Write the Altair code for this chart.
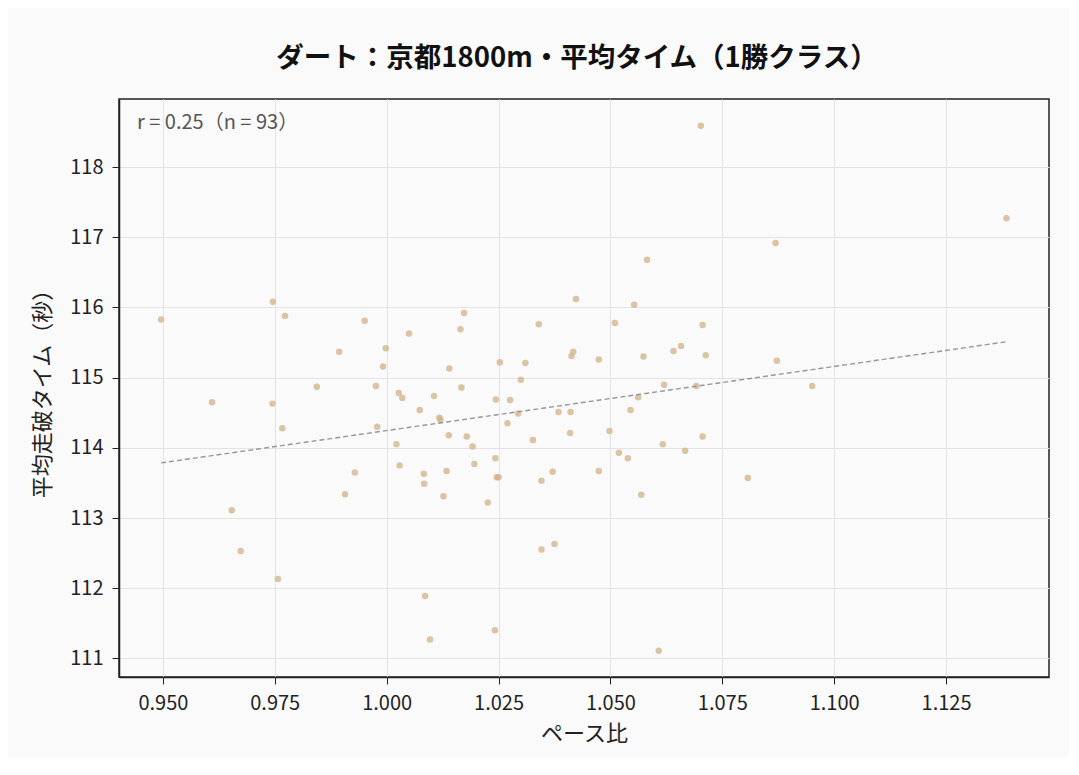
import altair as alt
import pandas as pd

# ペース比 (x) と 平均走破タイム (y, 秒)
pace_ratio = [
    0.9496, 0.9746, 0.9773, 0.9951, 1.0050, 0.9894, 0.9998, 0.9992, 0.9844, 0.9976,
    0.9610, 0.9745, 1.0027, 1.0035, 1.0106, 1.0074, 1.0118, 1.0120, 0.9767, 0.9979,
    1.0022, 1.0029, 0.9929, 1.0083, 1.0084, 0.9907, 0.9654, 0.9674, 0.9757, 1.0086,
    1.0097, 1.0702, 1.0582, 1.0423, 1.0553, 1.0173, 1.0165, 1.0340, 1.0510, 1.0706,
    1.0140, 1.0253, 1.0310, 1.0417, 1.0413, 1.0474, 1.0574, 1.0641, 1.0658, 1.0713,
    1.0300, 1.0167, 1.0620, 1.0692, 1.0244, 1.0276, 1.0294, 1.0270, 1.0384, 1.0411,
    1.0545, 1.0562, 1.0139, 1.0179, 1.0192, 1.0196, 1.0134, 1.0127, 1.0243, 1.0246,
    1.0250, 1.0226, 1.0327, 1.0410, 1.0498, 1.0519, 1.0539, 1.0617, 1.0667, 1.0706,
    1.0371, 1.0474, 1.0346, 1.0569, 1.0346, 1.0375, 1.0242, 1.0608, 1.0869, 1.1385,
    1.0872, 1.0951, 1.0807,
]
avg_time = [
    115.83, 116.08, 115.88, 115.81, 115.63, 115.37, 115.42, 115.16, 114.87, 114.88,
    114.65, 114.63, 114.78, 114.71, 114.74, 114.54, 114.43, 114.40, 114.28, 114.30,
    114.05, 113.75, 113.65, 113.63, 113.49, 113.34, 113.11, 112.53, 112.13, 111.89,
    111.27, 118.59, 116.68, 116.12, 116.04, 115.92, 115.69, 115.76, 115.78, 115.75,
    115.13, 115.22, 115.21, 115.37, 115.31, 115.26, 115.30, 115.38, 115.45, 115.32,
    114.97, 114.86, 114.90, 114.88, 114.69, 114.68, 114.49, 114.35, 114.51, 114.51,
    114.54, 114.72, 114.18, 114.16, 114.02, 113.77, 113.67, 113.31, 113.85, 113.58,
    113.58, 113.22, 114.11, 114.21, 114.24, 113.93, 113.85, 114.05, 113.96, 114.16,
    113.66, 113.67, 113.53, 113.33, 112.55, 112.63, 111.40, 111.11, 116.92, 117.27,
    115.24, 114.88, 113.57,
]

x_ticks = [0.950, 0.975, 1.000, 1.025, 1.050, 1.075, 1.100, 1.125]
y_ticks = [111, 112, 113, 114, 115, 116, 117, 118]

title_text = "ダート：京都1800m・平均タイム（1勝クラス）"
note_text = "r = 0.25（n = 93）"

FONT = "Noto Sans CJK JP"

df = pd.DataFrame({"pace": pace_ratio, "time": avg_time})

x_scale = alt.Scale(domain=[0.9402, 1.1480], nice=False, zero=False)
y_scale = alt.Scale(domain=[110.735, 118.97], nice=False, zero=False)

x_enc = alt.X("pace:Q", scale=x_scale, title="ペース比",
              axis=alt.Axis(values=x_ticks, format=".3f", labelPadding=9, titlePadding=10))
y_enc = alt.Y("time:Q", scale=y_scale, title="平均走破タイム（秒）",
              axis=alt.Axis(values=y_ticks, format="d", labelPadding=9, titlePadding=15))

points = alt.Chart(df).mark_circle(
    size=42, color="#d2b48c", opacity=0.78
).encode(x=x_enc, y=y_enc)

trend = alt.Chart(df).transform_regression(
    "pace", "time"
).mark_line(
    color="#8c8c8c", strokeWidth=1.4, strokeDash=[5, 3], opacity=0.9
).encode(x=x_enc, y=y_enc)

note = alt.Chart(pd.DataFrame({"label": [note_text]})).mark_text(
    align="left", baseline="middle", font=FONT, fontSize=20, color="#555555"
).encode(x=alt.value(18), y=alt.value(24), text="label:N")

chart = (
    alt.layer(points, trend, note)
    .properties(
        width=930,
        height=578,
        autosize=alt.AutoSizeParams(type="none"),
        padding={"left": 111, "top": 91, "right": 20, "bottom": 80},
        background="#fafafa",
        title=alt.Title(title_text, font=FONT, fontSize=27.5, fontWeight="bold",
                        color="#111111", anchor="middle", offset=27, dx=-7),
    )
    .configure_view(stroke="#222222", strokeWidth=1.5)
    .configure_axis(
        labelFont=FONT, titleFont=FONT,
        labelFontSize=20, titleFontSize=22,
        labelColor="#222222", titleColor="#222222",
        titleFontWeight="normal",
        gridColor="#e3e3e3", gridWidth=1,
        domainColor="#222222", domainWidth=1.5,
        tickColor="#222222", tickSize=7,
    )
)

chart.save("out.html", embed_options={"renderer": "svg", "actions": False})
